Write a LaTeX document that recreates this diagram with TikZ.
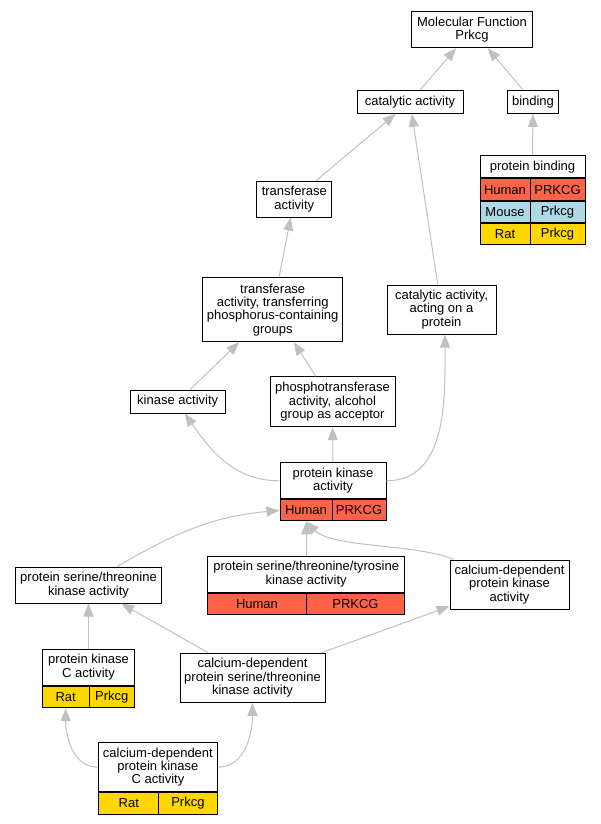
\documentclass[tikz,border=0pt]{standalone}
\usepackage{fontspec}
\setmainfont{Liberation Sans}
\usetikzlibrary{arrows.meta}
\definecolor{human}{HTML}{FF6347}
\definecolor{mouse}{HTML}{ADD8E6}
\definecolor{rat}{HTML}{FFD700}
\definecolor{isagray}{HTML}{C0C0C0}

\begin{document}
\begin{tikzpicture}[x=1pt,y=1pt,
		term/.style={draw, fill=white, line width=1pt, align=center, inner sep=0pt,
			font=\fontsize{13}{13.3}\selectfont},
		cell/.style={term, minimum height=21.3pt},
		isa/.style={draw=isagray, line width=1pt, -{Triangle[length=13pt,width=10pt]}}]
		\useasboundingbox (0,0) rectangle (600,-824);
		% terms
		\node[term, minimum width=120.6pt, minimum height=36pt] (mf) at (472,-29.7) {Molecular Function\\Prkcg};
		\node[term, minimum width=106pt, minimum height=23.3pt] (cat) at (410,-101.7) {catalytic activity};
		\node[term, minimum width=51.4pt, minimum height=23.3pt] (bind) at (533,-101.7) {binding};
		\node[term, minimum width=105pt, minimum height=22.3pt] (pbind) at (532.5,-166.8) {protein binding};
		\node[cell, fill=human, minimum width=50pt, anchor=north west] (pbh) at (pbind.south west) {Human};
		\node[cell, fill=human, minimum width=55pt, anchor=north east] (pbhg) at (pbind.south east) {PRKCG};
		\node[cell, fill=mouse, minimum width=50pt, anchor=north west] (pbm) at (pbh.south west) {Mouse};
		\node[cell, fill=mouse, minimum width=55pt, anchor=north east] (pbmg) at (pbhg.south east) {Prkcg};
		\node[cell, fill=rat, minimum width=50pt, anchor=north west] (pbr) at (pbm.south west) {Rat};
		\node[cell, fill=rat, minimum width=55pt, anchor=north east] (pbrg) at (pbmg.south east) {Prkcg};
		\node[term, minimum width=75.3pt, minimum height=36pt] (trans) at (294.3,-199) {transferase\\activity};
		\node[term, minimum width=140pt, minimum height=63.7pt] (phos) at (272.7,-309.8) {transferase\\activity, transferring\\phosphorus-containing\\groups};
		\node[term, minimum width=109pt, minimum height=49pt] (capr) at (441.5,-309.5) {catalytic activity,\\acting on a\\protein};
		\node[term, minimum width=95.3pt, minimum height=23pt] (kin) at (177.7,-401.5) {kinase activity};
		\node[term, minimum width=125pt, minimum height=49.7pt] (ptrans) at (332.5,-401.8) {phosphotransferase\\activity, alcohol\\group as acceptor};
		\node[term, minimum width=106pt, minimum height=36.3pt] (pka) at (333,-480.8) {protein kinase\\activity};
		\node[cell, fill=human, minimum width=52pt, minimum height=21pt, anchor=north west] (pkah) at (pka.south west) {Human};
		\node[cell, fill=human, minimum width=54pt, minimum height=21pt, anchor=north east] (pkahg) at (pka.south east) {PRKCG};
		\node[term, minimum width=197pt, minimum height=36pt] (psttk) at (306.2,-574) {protein serine/threonine/tyrosine\\kinase activity};
		\node[cell, fill=human, minimum width=98.5pt, anchor=north west] (psttkh) at (psttk.south west) {Human};
		\node[cell, fill=human, minimum width=98.5pt, anchor=north east] (psttkhg) at (psttk.south east) {PRKCG};
		\node[term, minimum width=146pt, minimum height=36pt] (pst) at (88.5,-585) {protein serine/threonine\\kinase activity};
		\node[term, minimum width=119pt, minimum height=49pt] (cdpk) at (509.5,-584.5) {calcium-dependent\\protein kinase\\activity};
		\node[term, minimum width=92.4pt, minimum height=36pt] (pkc) at (88.5,-667) {protein kinase\\C activity};
		\node[cell, fill=rat, minimum width=46.7pt, minimum height=21.7pt, anchor=north west] (pkcr) at (pkc.south west) {Rat};
		\node[cell, fill=rat, minimum width=45.7pt, minimum height=21.7pt, anchor=north east] (pkcrg) at (pkc.south east) {Prkcg};
		\node[term, minimum width=145pt, minimum height=49pt] (cdpstk) at (252.5,-677.8) {calcium-dependent\\protein serine/threonine\\kinase activity};
		\node[term, minimum width=118.3pt, minimum height=49pt] (cdpkc) at (157.9,-767.2) {calcium-dependent\\protein kinase\\C activity};
		\node[cell, fill=rat, minimum width=60pt, anchor=north west] (cdpkcr) at (cdpkc.south west) {Rat};
		\node[cell, fill=rat, minimum width=58.3pt, anchor=north east] (cdpkcrg) at (cdpkc.south east) {Prkcg};
		% is_a links
		\draw[isa] (cat) -- (mf);
		\draw[isa] (bind) -- (mf);
		\draw[isa] (pbind) -- (bind);
		\draw[isa] (trans) -- (cat);
		\draw[isa] (capr) -- (cat);
		\draw[isa] (phos) -- (trans);
		\draw[isa] (kin) -- (phos);
		\draw[isa] (ptrans) -- (phos);
		\draw[isa] (pka) -- (ptrans);
		\draw[isa] (pka.west) to[out=180,in=-55] ([xshift=7pt]kin.south);
		\draw[isa] (pka.east) to[out=0,in=-90] ([xshift=3.5pt]capr.south);
		\coordinate (pkain) at (psttk.north |- pkah.south);
		\draw[isa] ([xshift=28.5pt]pst.north) to[out=30,in=185] (pkah.west);
		\draw[isa] (psttk) -- (pkain);
		\draw[isa] ([xshift=4pt]cdpk.north west) .. controls (420,-544) and (332,-548) .. (pkain);
		\draw[isa] (pkc) -- (pst);
		\draw[isa] (cdpstk) -- (pst);
		\draw[isa] (cdpstk) -- (cdpk);
		\draw[isa] (cdpkc.west) to[out=180,in=-90] (pkcr.south);
		\draw[isa] (cdpkc.east) to[out=0,in=-90] (cdpstk.south);
	\end{tikzpicture}
\end{document}
